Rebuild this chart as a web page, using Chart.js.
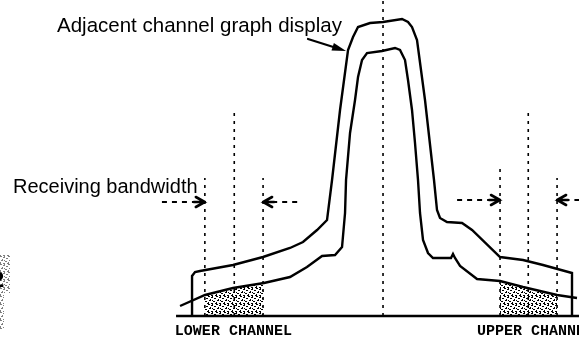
<!DOCTYPE html>
<html>
<head>
<meta charset="utf-8">
<title>Adjacent channel graph</title>
<script src="https://cdn.jsdelivr.net/npm/chart.js@4.4.1/dist/chart.umd.min.js"></script>
<style>
  html, body { margin: 0; padding: 0; background: #fff; }
  canvas { display: block; }
</style>
</head>
<body>
<canvas id="acp" width="579" height="345"></canvas>
<script>
// frequency offset from the carrier (kHz) / level above the floor (dB)
const outerFreq = [-32.48, -32.48, -31.97, -31.12, -25.51, -20.41, -15.82, -13.61, -11.22, -9.52,
  -8.67, -7.31, -5.95, -5.10, -4.25, -2.21, 0, 3.23, 4.25, 4.93, 5.78, 7.14, 8.67, 9.18, 9.69,
  10.88, 13.44, 15.14, 19.90, 23.81, 27.21, 32.14, 32.14];
const outerLevel = [0, 10, 11, 11.25, 12.75, 14.75, 17, 18.5, 21.5, 24,
  34, 51.5, 66.5, 69.75, 72.25, 73.25, 73.5, 74.25, 73.5, 72.25, 69, 54, 34, 26.5, 24.5,
  23.5, 23.25, 21.5, 14.75, 14, 12.75, 10.75, 0];

const innerFreq = [-34.52, -30.27, -25.51, -20.24, -15.82, -12.93, -10.37, -8.16, -6.97, -6.46,
  -6.29, -5.61, -4.76, -4.25, -3.57, -2.72, -0.17, 2.04, 2.89, 3.74, 4.25, 4.93, 5.44, 5.95,
  6.29, 6.80, 7.65, 8.50, 11.56, 11.90, 12.24, 13.10, 15.99, 19.90, 23.81, 29.59, 32.99];
const innerLevel = [2.5, 5.25, 7, 8.25, 9.75, 12.25, 15, 15.25, 17.25, 25.75,
  34, 45.75, 54, 59.75, 64, 65.75, 66.25, 67, 66.5, 64, 59, 51.5, 43.25, 34,
  25.75, 19, 15.75, 14.5, 14.5, 15.5, 14.5, 12.5, 9.25, 8.75, 7.25, 5.25, 4.5];

// dotted markers: band edges, channel centres, carrier
const markerFreq = [-30.3, -25.3, -20.4, 0, 19.9, 24.7, 29.6];
const markerTop = [34.5, 50.75, 34.5, 79.5, 37, 50.75, 34.5];

// receiving bandwidth of each adjacent channel
const lowerBand = [-30.3, -20.4];
const upperBand = [19.9, 29.6];

// bandwidth arrows (tail -> head)
const arrowTail = [-37.6, -14.6, 12.6, 33.4];
const arrowHead = [-30.3, -20.4, 19.9, 29.6];
const arrowLevel = [28.5, 28.5, 29, 29];

const floorFreq = [-35.2, 33.4];
const channelNames = ['LOWER CHANNEL', 'UPPER CHANNEL'];
const channelLabelFreq = [-35.4, 16.0];

const toPoints = (xs, ys) => xs.map((f, i) => ({ x: f, y: ys[i] }));

function innerAt(f) {
  for (let i = 1; i < innerFreq.length; i++) {
    if (f <= innerFreq[i]) {
      const t = (f - innerFreq[i - 1]) / (innerFreq[i] - innerFreq[i - 1]);
      return innerLevel[i - 1] + t * (innerLevel[i] - innerLevel[i - 1]);
    }
  }
  return innerLevel[innerLevel.length - 1];
}

// part of the inner trace that falls inside a band
function bandShade(band) {
  const pts = [{ x: band[0], y: innerAt(band[0]) }];
  innerFreq.forEach((f, i) => {
    if (f > band[0] && f < band[1]) pts.push({ x: f, y: innerLevel[i] });
  });
  pts.push({ x: band[1], y: innerAt(band[1]) });
  return pts;
}

const canvas = document.getElementById('acp');
const ctx = canvas.getContext('2d');

function stipple() {
  const c = document.createElement('canvas');
  c.width = 8; c.height = 8;
  const g = c.getContext('2d');
  g.fillStyle = '#000';
  [[0, 0, 2, 1], [4, 0, 1, 2], [6, 2, 2, 1], [2, 3, 1, 2], [5, 5, 2, 1],
   [0, 6, 1, 2], [7, 7, 1, 1], [3, 1, 1, 1], [4, 4, 1, 1], [1, 4, 1, 1], [3, 7, 2, 1]]
    .forEach(d => g.fillRect(...d));
  return ctx.createPattern(c, 'repeat');
}
const dots = stipple();

const datasets = [];

[lowerBand, upperBand].forEach(b => datasets.push({
  data: bandShade(b), borderWidth: 0, fill: 'origin', backgroundColor: dots, order: 10
}));

markerFreq.forEach((f, i) => datasets.push({
  data: [{ x: f, y: 0 }, { x: f, y: markerTop[i] }],
  borderColor: '#000', borderWidth: 1.6, borderDash: [3, 5], order: 5
}));

arrowTail.forEach((f, i) => datasets.push({
  data: [{ x: f, y: arrowLevel[i] }, { x: arrowHead[i], y: arrowLevel[i] }],
  borderColor: '#000', borderWidth: 2, borderDash: [5, 5], order: 5
}));

datasets.push({
  data: [{ x: floorFreq[0], y: 0 }, { x: floorFreq[1], y: 0 }],
  borderColor: '#000', borderWidth: 2.4, order: 2
});
datasets.push({ data: toPoints(outerFreq, outerLevel), borderColor: '#000', borderWidth: 2.4, order: 1 });
datasets.push({ data: toPoints(innerFreq, innerLevel), borderColor: '#000', borderWidth: 2.4, order: 1 });

const overlay = {
  id: 'overlay',
  afterDatasetsDraw(chart) {
    const { ctx: c, scales: { x, y } } = chart;
    const px = v => x.getPixelForValue(v);
    const py = v => y.getPixelForValue(v);
    c.save();
    c.strokeStyle = '#000';
    c.fillStyle = '#000';

    // open arrowheads on the bandwidth arrows
    c.lineWidth = 2.6;
    c.lineCap = 'round';
    arrowHead.forEach((f, i) => {
      const tx = px(f), ty = py(arrowLevel[i]);
      const d = Math.sign(f - arrowTail[i]);
      c.beginPath();
      c.moveTo(tx - d * 9, ty - 5);
      c.lineTo(tx, ty);
      c.lineTo(tx - d * 9, ty + 5);
      c.moveTo(tx - d * 11, ty);
      c.lineTo(tx, ty);
      c.stroke();
    });

    // pointer to the outer trace
    const ax0 = px(-12.76), ay0 = py(69.25), ax1 = px(-6.29), ay1 = py(66.25);
    const ang = Math.atan2(ay1 - ay0, ax1 - ax0);
    c.lineWidth = 2.2;
    c.beginPath();
    c.moveTo(ax0, ay0);
    c.lineTo(ax1 - 10 * Math.cos(ang), ay1 - 10 * Math.sin(ang));
    c.stroke();
    c.beginPath();
    c.moveTo(ax1, ay1);
    c.lineTo(ax1 - 14 * Math.cos(ang) + 4 * Math.sin(ang), ay1 - 14 * Math.sin(ang) - 4 * Math.cos(ang));
    c.lineTo(ax1 - 14 * Math.cos(ang) - 4 * Math.sin(ang), ay1 - 14 * Math.sin(ang) + 4 * Math.cos(ang));
    c.closePath();
    c.fill();

    // captions
    c.textBaseline = 'alphabetic';
    c.textAlign = 'left';
    c.font = '20.5px "Liberation Sans", Arial, sans-serif';
    c.fillText('Adjacent channel graph display', px(-55.44), py(71));
    c.font = '20px "Liberation Sans", Arial, sans-serif';
    c.fillText('Receiving bandwidth', px(-62.93), py(30.75));

    c.font = 'bold 15px "Liberation Mono", monospace';
    channelNames.forEach((t, i) => c.fillText(t, px(channelLabelFreq[i]), py(-4.75)));

    // figure number bleeding in at the left margin
    c.globalAlpha = 0.5;
    c.fillStyle = dots;
    c.fillRect(0, 255, 10, 38);
    c.fillRect(0, 293, 4, 36);
    c.globalAlpha = 1;
    c.fillStyle = '#000';
    c.font = 'bold 22px "Liberation Sans", sans-serif';
    c.fillText('2', -8, 287);
    c.restore();
  }
};

new Chart(ctx, {
  type: 'line',
  data: { datasets },
  options: {
    responsive: false,
    animation: false,
    layout: { padding: 0 },
    plugins: { legend: { display: false }, tooltip: { enabled: false } },
    elements: { point: { radius: 0 }, line: { tension: 0 } },
    scales: {
      x: { type: 'linear', min: -65.14, max: 33.33, display: false },
      y: { type: 'linear', min: -7.25, max: 79, display: false }
    }
  },
  plugins: [overlay]
});
</script>
</body>
</html>
